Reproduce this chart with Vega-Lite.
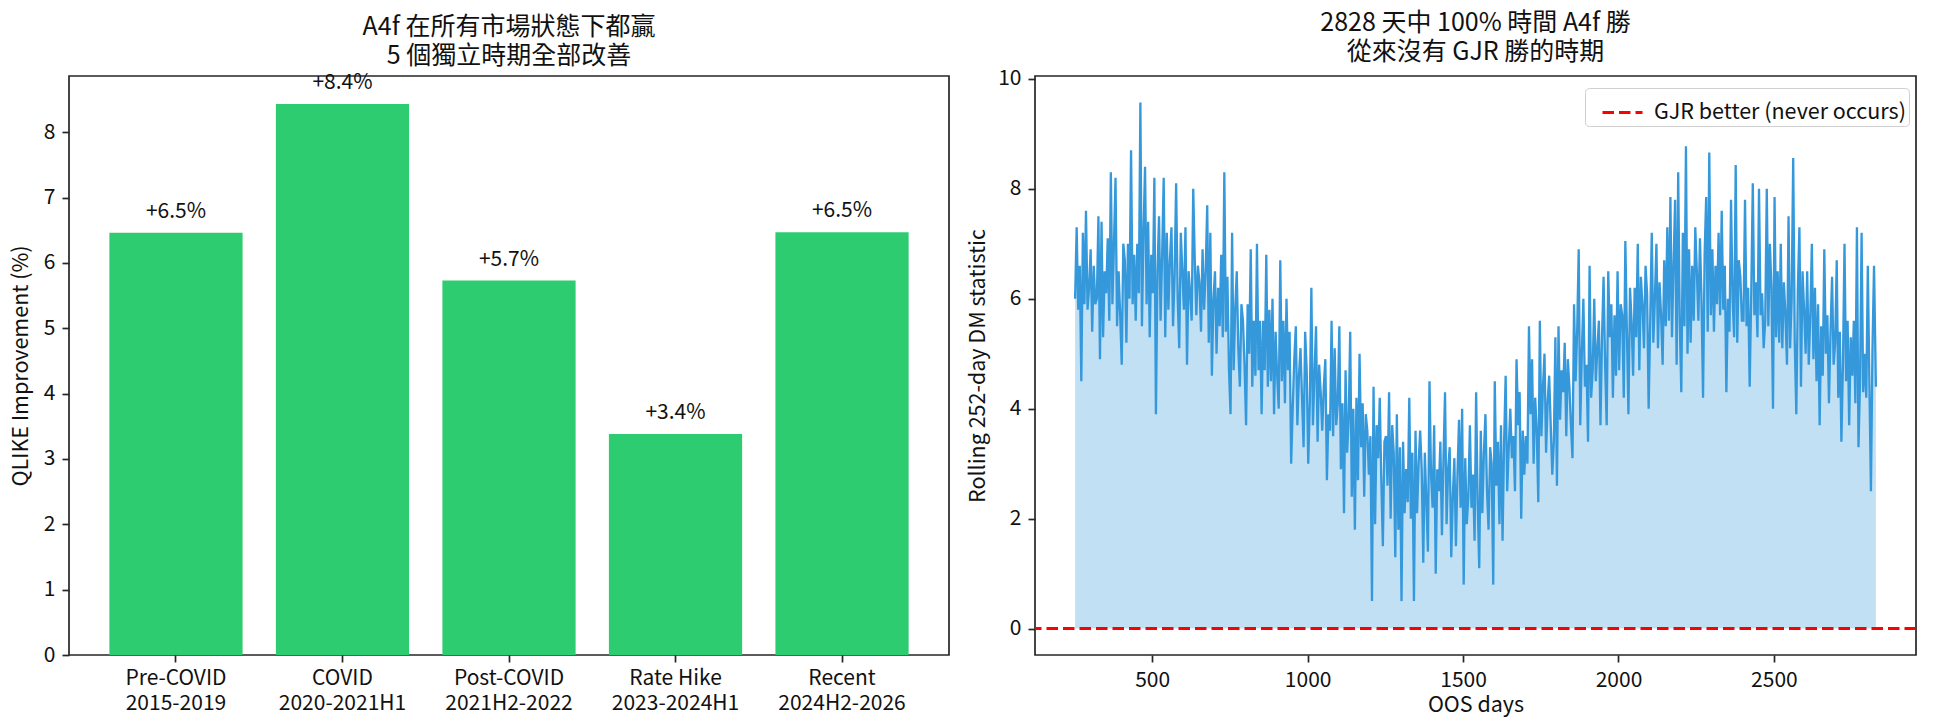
{
  "$schema": "https://vega.github.io/schema/vega-lite/v6.json",
  "background": "white",
  "padding": {"left": 9, "top": 9, "right": 14, "bottom": 10},
  "bounds": "flush",
  "spacing": 86,
  "resolve": {"scale": {"color": "independent"}, "legend": {"color": "independent"}},
  "config": {
    "font": "Noto Sans CJK TC",
    "view": {"stroke": "#262626", "strokeWidth": 1.7},
    "axis": {
      "domain": false,
      "grid": false,
      "ticks": true,
      "tickColor": "#262626",
      "tickWidth": 1.7,
      "tickSize": 7,
      "labelPadding": 7,
      "labelFont": "Noto Sans CJK TC",
      "labelFontSize": 21,
      "labelColor": "#111111",
      "titleFont": "Noto Sans CJK TC",
      "titleFontSize": 21.5,
      "titleFontWeight": "normal",
      "titleColor": "#111111"
    },
    "title": {"font": "Noto Sans CJK TC", "fontSize": 25, "fontWeight": "normal", "color": "#111111", "lineHeight": 29, "offset": 3, "anchor": "middle"}
  },
  "datasets": {
    "periods": [
      {"period": "Pre-COVID|2015-2019", "gain": 6.46},
      {"period": "COVID|2020-2021H1", "gain": 8.43},
      {"period": "Post-COVID|2021H2-2022", "gain": 5.73},
      {"period": "Rate Hike|2023-2024H1", "gain": 3.38},
      {"period": "Recent|2024H2-2026", "gain": 6.47}
    ],
    "dm": [
      {"d":252,"v":6.0},{"d":257,"v":7.3},{"d":262,"v":5.8},{"d":267,"v":6.6},{"d":272,"v":4.5},{"d":277,"v":7.2},{"d":282,"v":5.9},{"d":287,"v":7.6},{"d":292,"v":5.8},{"d":297,"v":6.2},
      {"d":302,"v":6.9},{"d":307,"v":5.4},{"d":312,"v":6.6},{"d":317,"v":5.9},{"d":322,"v":6.0},{"d":327,"v":7.5},{"d":332,"v":4.9},{"d":337,"v":7.4},{"d":342,"v":5.3},{"d":347,"v":6.5},
      {"d":352,"v":6.1},{"d":357,"v":7.1},{"d":362,"v":5.6},{"d":367,"v":8.3},{"d":372,"v":5.9},{"d":377,"v":7.0},{"d":382,"v":8.2},{"d":387,"v":5.5},{"d":392,"v":6.5},{"d":397,"v":5.7},
      {"d":402,"v":4.8},{"d":407,"v":7.0},{"d":412,"v":6.7},{"d":417,"v":5.2},{"d":422,"v":7.0},{"d":427,"v":6.0},{"d":432,"v":8.7},{"d":437,"v":5.9},{"d":442,"v":6.8},{"d":447,"v":5.6},
      {"d":452,"v":7.0},{"d":457,"v":6.1},{"d":462,"v":9.57},{"d":467,"v":5.5},{"d":472,"v":7.2},{"d":477,"v":8.4},{"d":482,"v":5.9},{"d":487,"v":7.4},{"d":492,"v":5.3},{"d":497,"v":6.8},
      {"d":502,"v":6.1},{"d":507,"v":8.2},{"d":512,"v":3.9},{"d":517,"v":6.5},{"d":522,"v":7.5},{"d":527,"v":5.6},{"d":532,"v":6.8},{"d":537,"v":8.2},{"d":542,"v":5.3},{"d":547,"v":7.2},
      {"d":552,"v":5.8},{"d":557,"v":6.7},{"d":562,"v":7.3},{"d":567,"v":5.5},{"d":572,"v":6.4},{"d":577,"v":8.1},{"d":582,"v":6.0},{"d":587,"v":5.1},{"d":592,"v":7.2},{"d":597,"v":6.5},
      {"d":602,"v":5.8},{"d":607,"v":7.3},{"d":612,"v":4.8},{"d":617,"v":6.5},{"d":622,"v":6.1},{"d":627,"v":5.6},{"d":632,"v":8.0},{"d":637,"v":6.7},{"d":642,"v":5.7},{"d":647,"v":6.6},
      {"d":652,"v":6.3},{"d":657,"v":5.4},{"d":662,"v":6.9},{"d":667,"v":5.8},{"d":672,"v":6.5},{"d":677,"v":7.7},{"d":682,"v":5.2},{"d":687,"v":7.2},{"d":692,"v":4.6},{"d":697,"v":6.0},
      {"d":702,"v":6.5},{"d":707,"v":5.0},{"d":712,"v":6.2},{"d":717,"v":5.5},{"d":722,"v":6.8},{"d":727,"v":5.3},{"d":732,"v":8.3},{"d":737,"v":5.4},{"d":742,"v":6.4},{"d":747,"v":4.7},
      {"d":752,"v":3.9},{"d":757,"v":7.2},{"d":762,"v":4.7},{"d":767,"v":5.8},{"d":772,"v":6.5},{"d":777,"v":5.1},{"d":782,"v":4.4},{"d":787,"v":5.9},{"d":792,"v":5.6},{"d":797,"v":4.8},
      {"d":802,"v":3.7},{"d":807,"v":5.9},{"d":812,"v":5.0},{"d":817,"v":6.9},{"d":822,"v":4.4},{"d":827,"v":5.6},{"d":832,"v":4.6},{"d":837,"v":7.0},{"d":842,"v":4.7},{"d":847,"v":5.6},
      {"d":852,"v":3.9},{"d":857,"v":5.6},{"d":862,"v":4.7},{"d":867,"v":6.8},{"d":872,"v":4.4},{"d":877,"v":5.8},{"d":882,"v":4.5},{"d":887,"v":6.0},{"d":892,"v":3.9},{"d":897,"v":5.4},
      {"d":902,"v":4.6},{"d":907,"v":4.0},{"d":912,"v":6.7},{"d":917,"v":4.5},{"d":922,"v":5.6},{"d":927,"v":4.1},{"d":932,"v":6.0},{"d":937,"v":4.7},{"d":942,"v":5.4},{"d":947,"v":3.0},
      {"d":952,"v":4.0},{"d":957,"v":4.9},{"d":962,"v":5.5},{"d":967,"v":3.7},{"d":972,"v":4.6},{"d":977,"v":5.1},{"d":982,"v":4.2},{"d":987,"v":3.3},{"d":992,"v":5.4},{"d":997,"v":4.7},
      {"d":1002,"v":3.0},{"d":1007,"v":4.1},{"d":1012,"v":6.2},{"d":1017,"v":3.7},{"d":1022,"v":4.6},{"d":1027,"v":5.5},{"d":1032,"v":3.4},{"d":1037,"v":4.8},{"d":1042,"v":4.3},{"d":1047,"v":3.6},
      {"d":1052,"v":4.4},{"d":1057,"v":4.9},{"d":1062,"v":2.7},{"d":1067,"v":3.9},{"d":1072,"v":3.6},{"d":1077,"v":5.6},{"d":1082,"v":3.5},{"d":1087,"v":5.1},{"d":1092,"v":3.7},{"d":1097,"v":4.1},
      {"d":1102,"v":5.5},{"d":1107,"v":2.9},{"d":1112,"v":4.1},{"d":1117,"v":2.1},{"d":1122,"v":4.7},{"d":1127,"v":3.2},{"d":1132,"v":3.8},{"d":1137,"v":5.4},{"d":1142,"v":2.4},{"d":1147,"v":4.0},
      {"d":1152,"v":1.8},{"d":1157,"v":4.2},{"d":1162,"v":2.7},{"d":1167,"v":5.0},{"d":1172,"v":3.3},{"d":1177,"v":4.1},{"d":1182,"v":2.4},{"d":1187,"v":3.9},{"d":1192,"v":3.6},{"d":1197,"v":2.8},
      {"d":1202,"v":3.5},{"d":1207,"v":0.5},{"d":1212,"v":4.4},{"d":1217,"v":1.9},{"d":1222,"v":3.7},{"d":1227,"v":3.1},{"d":1232,"v":4.2},{"d":1237,"v":2.7},{"d":1242,"v":1.5},{"d":1247,"v":3.4},
      {"d":1252,"v":3.5},{"d":1257,"v":2.6},{"d":1262,"v":4.3},{"d":1267,"v":2.0},{"d":1272,"v":3.7},{"d":1277,"v":3.2},{"d":1282,"v":1.3},{"d":1287,"v":3.9},{"d":1292,"v":1.8},{"d":1297,"v":3.3},
      {"d":1302,"v":0.5},{"d":1307,"v":3.4},{"d":1312,"v":2.1},{"d":1317,"v":2.9},{"d":1322,"v":2.3},{"d":1327,"v":4.2},{"d":1332,"v":2.0},{"d":1337,"v":3.2},{"d":1342,"v":0.5},{"d":1347,"v":3.6},
      {"d":1352,"v":2.1},{"d":1357,"v":3.0},{"d":1362,"v":3.6},{"d":1367,"v":2.9},{"d":1372,"v":1.2},{"d":1377,"v":3.2},{"d":1382,"v":2.3},{"d":1387,"v":1.4},{"d":1392,"v":4.5},{"d":1397,"v":2.8},
      {"d":1402,"v":2.2},{"d":1407,"v":3.7},{"d":1412,"v":1.0},{"d":1417,"v":2.9},{"d":1422,"v":2.5},{"d":1427,"v":3.4},{"d":1432,"v":1.7},{"d":1437,"v":3.1},{"d":1442,"v":4.3},{"d":1447,"v":1.9},
      {"d":1452,"v":2.9},{"d":1457,"v":3.3},{"d":1462,"v":1.3},{"d":1467,"v":2.4},{"d":1472,"v":3.1},{"d":1477,"v":1.5},{"d":1482,"v":2.8},{"d":1487,"v":3.8},{"d":1492,"v":2.2},{"d":1497,"v":4.0},
      {"d":1502,"v":0.8},{"d":1507,"v":3.1},{"d":1512,"v":1.9},{"d":1517,"v":2.4},{"d":1522,"v":3.7},{"d":1527,"v":2.2},{"d":1532,"v":2.8},{"d":1537,"v":1.6},{"d":1542,"v":4.3},{"d":1547,"v":2.3},
      {"d":1552,"v":1.1},{"d":1557,"v":3.6},{"d":1562,"v":2.1},{"d":1567,"v":3.2},{"d":1572,"v":3.9},{"d":1577,"v":2.5},{"d":1582,"v":1.8},{"d":1587,"v":3.3},{"d":1592,"v":3.0},{"d":1597,"v":0.8},
      {"d":1602,"v":4.5},{"d":1607,"v":2.6},{"d":1612,"v":3.4},{"d":1617,"v":1.9},{"d":1622,"v":3.7},{"d":1627,"v":1.6},{"d":1632,"v":3.4},{"d":1637,"v":4.6},{"d":1642,"v":2.5},{"d":1647,"v":3.3},
      {"d":1652,"v":4.0},{"d":1657,"v":3.1},{"d":1662,"v":3.5},{"d":1667,"v":2.5},{"d":1672,"v":4.9},{"d":1677,"v":3.7},{"d":1682,"v":4.3},{"d":1687,"v":2.0},{"d":1692,"v":3.6},{"d":1697,"v":2.8},
      {"d":1702,"v":3.5},{"d":1707,"v":3.0},{"d":1712,"v":5.5},{"d":1717,"v":3.9},{"d":1722,"v":4.9},{"d":1727,"v":3.0},{"d":1732,"v":4.2},{"d":1737,"v":3.6},{"d":1742,"v":2.3},{"d":1747,"v":5.6},
      {"d":1752,"v":3.5},{"d":1757,"v":4.4},{"d":1762,"v":5.0},{"d":1767,"v":3.2},{"d":1772,"v":4.1},{"d":1777,"v":4.6},{"d":1782,"v":3.7},{"d":1787,"v":2.8},{"d":1792,"v":3.4},{"d":1797,"v":5.3},
      {"d":1802,"v":2.6},{"d":1807,"v":5.5},{"d":1812,"v":3.8},{"d":1817,"v":4.7},{"d":1822,"v":4.3},{"d":1827,"v":5.2},{"d":1832,"v":3.5},{"d":1837,"v":4.9},{"d":1842,"v":4.4},{"d":1847,"v":3.7},
      {"d":1852,"v":3.1},{"d":1857,"v":5.9},{"d":1862,"v":4.5},{"d":1867,"v":5.4},{"d":1872,"v":6.9},{"d":1877,"v":3.7},{"d":1882,"v":5.0},{"d":1887,"v":6.0},{"d":1892,"v":4.4},{"d":1897,"v":4.8},
      {"d":1902,"v":3.4},{"d":1907,"v":6.6},{"d":1912,"v":4.2},{"d":1917,"v":4.7},{"d":1922,"v":6.0},{"d":1927,"v":4.5},{"d":1932,"v":5.1},{"d":1937,"v":5.6},{"d":1942,"v":3.7},{"d":1947,"v":5.3},
      {"d":1952,"v":6.4},{"d":1957,"v":4.8},{"d":1962,"v":3.7},{"d":1967,"v":6.5},{"d":1972,"v":5.3},{"d":1977,"v":5.9},{"d":1982,"v":4.2},{"d":1987,"v":5.7},{"d":1992,"v":4.6},{"d":1997,"v":6.5},
      {"d":2002,"v":4.7},{"d":2007,"v":5.9},{"d":2012,"v":5.7},{"d":2017,"v":4.2},{"d":2022,"v":7.05},{"d":2027,"v":5.4},{"d":2032,"v":3.9},{"d":2037,"v":6.2},{"d":2042,"v":5.6},{"d":2047,"v":4.6},
      {"d":2052,"v":6.2},{"d":2057,"v":5.3},{"d":2062,"v":7.0},{"d":2067,"v":4.7},{"d":2072,"v":6.4},{"d":2077,"v":5.9},{"d":2082,"v":5.1},{"d":2087,"v":6.6},{"d":2092,"v":6.1},{"d":2097,"v":4.0},
      {"d":2102,"v":5.6},{"d":2107,"v":7.2},{"d":2112,"v":5.2},{"d":2117,"v":6.0},{"d":2122,"v":7.0},{"d":2127,"v":5.1},{"d":2132,"v":6.3},{"d":2137,"v":5.7},{"d":2142,"v":4.8},{"d":2147,"v":6.7},
      {"d":2152,"v":5.5},{"d":2157,"v":7.3},{"d":2162,"v":5.6},{"d":2167,"v":7.85},{"d":2172,"v":5.3},{"d":2177,"v":6.6},{"d":2182,"v":7.8},{"d":2187,"v":4.8},{"d":2192,"v":8.3},{"d":2197,"v":5.6},
      {"d":2202,"v":4.3},{"d":2207,"v":7.2},{"d":2212,"v":5.5},{"d":2217,"v":8.77},{"d":2222,"v":5.0},{"d":2227,"v":6.9},{"d":2232,"v":5.2},{"d":2237,"v":6.6},{"d":2242,"v":5.6},{"d":2247,"v":7.3},
      {"d":2252,"v":6.5},{"d":2257,"v":5.6},{"d":2262,"v":7.1},{"d":2267,"v":6.0},{"d":2272,"v":4.2},{"d":2277,"v":6.8},{"d":2282,"v":7.85},{"d":2287,"v":5.4},{"d":2292,"v":8.66},{"d":2297,"v":5.7},
      {"d":2302,"v":6.9},{"d":2307,"v":5.4},{"d":2312,"v":6.6},{"d":2317,"v":5.9},{"d":2322,"v":7.2},{"d":2327,"v":5.7},{"d":2332,"v":7.6},{"d":2337,"v":5.8},{"d":2342,"v":6.6},{"d":2347,"v":4.3},
      {"d":2352,"v":6.0},{"d":2357,"v":5.4},{"d":2362,"v":7.8},{"d":2367,"v":6.0},{"d":2372,"v":5.3},{"d":2377,"v":8.43},{"d":2382,"v":5.2},{"d":2387,"v":6.7},{"d":2392,"v":6.4},{"d":2397,"v":5.6},
      {"d":2402,"v":5.6},{"d":2407,"v":7.8},{"d":2412,"v":5.5},{"d":2417,"v":6.2},{"d":2422,"v":4.4},{"d":2427,"v":6.1},{"d":2432,"v":8.1},{"d":2437,"v":5.7},{"d":2442,"v":6.3},{"d":2447,"v":5.3},
      {"d":2452,"v":8.0},{"d":2457,"v":5.7},{"d":2462,"v":6.1},{"d":2467,"v":5.1},{"d":2472,"v":5.6},{"d":2477,"v":8.0},{"d":2482,"v":5.5},{"d":2487,"v":7.0},{"d":2492,"v":6.2},{"d":2497,"v":4.0},
      {"d":2502,"v":7.85},{"d":2507,"v":5.3},{"d":2512,"v":6.5},{"d":2517,"v":5.2},{"d":2522,"v":7.0},{"d":2527,"v":5.1},{"d":2532,"v":6.3},{"d":2537,"v":5.7},{"d":2542,"v":4.8},{"d":2547,"v":7.5},
      {"d":2552,"v":5.1},{"d":2557,"v":6.0},{"d":2562,"v":8.56},{"d":2567,"v":5.2},{"d":2572,"v":3.9},{"d":2577,"v":6.2},{"d":2582,"v":7.3},{"d":2587,"v":4.4},{"d":2592,"v":6.5},{"d":2597,"v":5.8},
      {"d":2602,"v":5.0},{"d":2607,"v":6.5},{"d":2612,"v":4.8},{"d":2617,"v":5.7},{"d":2622,"v":7.0},{"d":2627,"v":4.9},{"d":2632,"v":6.2},{"d":2637,"v":4.5},{"d":2642,"v":5.9},{"d":2647,"v":3.7},
      {"d":2652,"v":5.5},{"d":2657,"v":4.6},{"d":2662,"v":6.9},{"d":2667,"v":5.0},{"d":2672,"v":5.7},{"d":2677,"v":4.1},{"d":2682,"v":5.4},{"d":2687,"v":6.4},{"d":2692,"v":4.8},{"d":2697,"v":5.2},
      {"d":2702,"v":6.7},{"d":2707,"v":4.2},{"d":2712,"v":5.4},{"d":2717,"v":3.4},{"d":2722,"v":4.8},{"d":2727,"v":7.0},{"d":2732,"v":4.5},{"d":2737,"v":5.6},{"d":2742,"v":3.7},{"d":2747,"v":5.3},
      {"d":2752,"v":4.6},{"d":2757,"v":5.6},{"d":2762,"v":4.1},{"d":2767,"v":7.3},{"d":2772,"v":3.3},{"d":2777,"v":4.5},{"d":2782,"v":7.2},{"d":2787,"v":4.3},{"d":2792,"v":5.0},{"d":2797,"v":4.2},
      {"d":2802,"v":6.6},{"d":2807,"v":4.5},{"d":2812,"v":2.5},{"d":2817,"v":5.1},{"d":2822,"v":6.6},{"d":2828,"v":4.4}
    ]
  },
  "hconcat": [
    {
      "width": 880,
      "height": 579,
      "title": {"text": ["A4f 在所有市場狀態下都贏", "5 個獨立時期全部改善"]},
      "data": {"name": "periods"},
      "transform": [{"calculate": "format(datum.gain, '+.1f') + '%'", "as": "gainLabel"}],
      "encoding": {
        "x": {
          "field": "period",
          "type": "nominal",
          "sort": null,
          "scale": {"paddingInner": 0.2, "paddingOuter": 0.2425},
          "axis": {"title": null, "labelAngle": 0, "labelExpr": "split(datum.label, '|')", "labelLineHeight": 25, "labelPadding": 5, "labelBaseline": "top"}
        },
        "y": {
          "field": "gain",
          "type": "quantitative",
          "scale": {"domain": [0, 8.86], "nice": false},
          "axis": {"title": "QLIKE Improvement (%)", "values": [0, 1, 2, 3, 4, 5, 6, 7, 8], "format": "d", "titlePadding": 11}
        }
      },
      "layer": [
        {"mark": {"type": "bar", "color": "#2ecc71"}},
        {
          "mark": {"type": "text", "baseline": "middle", "dy": -21, "fontSize": 21, "color": "#111111"},
          "encoding": {"text": {"field": "gainLabel", "type": "nominal"}}
        }
      ]
    },
    {
      "width": 881,
      "height": 579,
      "title": {"text": ["2828 天中 100% 時間 A4f 勝", "從來沒有 GJR 勝的時期"]},
      "layer": [
        {
          "data": {"name": "dm"},
          "mark": {"type": "area", "color": "#3498db", "opacity": 0.3},
          "encoding": {
            "x": {
              "field": "d",
              "type": "quantitative",
              "scale": {"domain": [123, 2957], "nice": false, "zero": false},
              "axis": {"title": "OOS days", "values": [500, 1000, 1500, 2000, 2500], "format": "d"}
            },
            "y": {
              "field": "v",
              "type": "quantitative",
              "scale": {"domain": [-0.48, 10.05], "nice": false, "zero": false},
              "axis": {"title": "Rolling 252-day DM statistic", "values": [0, 2, 4, 6, 8, 10], "format": "d", "titlePadding": 8}
            },
            "y2": {"datum": 0}
          }
        },
        {
          "data": {"name": "dm"},
          "mark": {"type": "line", "color": "#3498db", "strokeWidth": 2.3},
          "encoding": {
            "x": {"field": "d", "type": "quantitative"},
            "y": {"field": "v", "type": "quantitative"}
          }
        },
        {
          "data": {"values": [{"level": 0, "series": "GJR better (never occurs)"}]},
          "mark": {"type": "rule", "strokeDash": [11.5, 5], "strokeWidth": 3},
          "encoding": {
            "y": {"field": "level", "type": "quantitative"},
            "color": {
              "field": "series",
              "type": "nominal",
              "scale": {"range": ["#ff0000"]},
              "legend": {
                "title": null,
                "orient": "none",
                "legendX": 550,
                "legendY": 12,
                "fillColor": "#ffffff",
                "strokeColor": "#d0d0d0",
                "cornerRadius": 4,
                "padding": 3,
                "labelFontSize": 21.5,
                "labelColor": "#111111",
                "labelLimit": 400,
                "symbolType": "stroke",
                "symbolStrokeWidth": 3,
                "symbolDash": [11.5, 5],
                "symbolSize": 1600,
                "symbolStrokeColor": "#ff0000",
                "symbolOffset": 13,
                "labelOffset": 10
              }
            }
          }
        }
      ]
    }
  ]
}
